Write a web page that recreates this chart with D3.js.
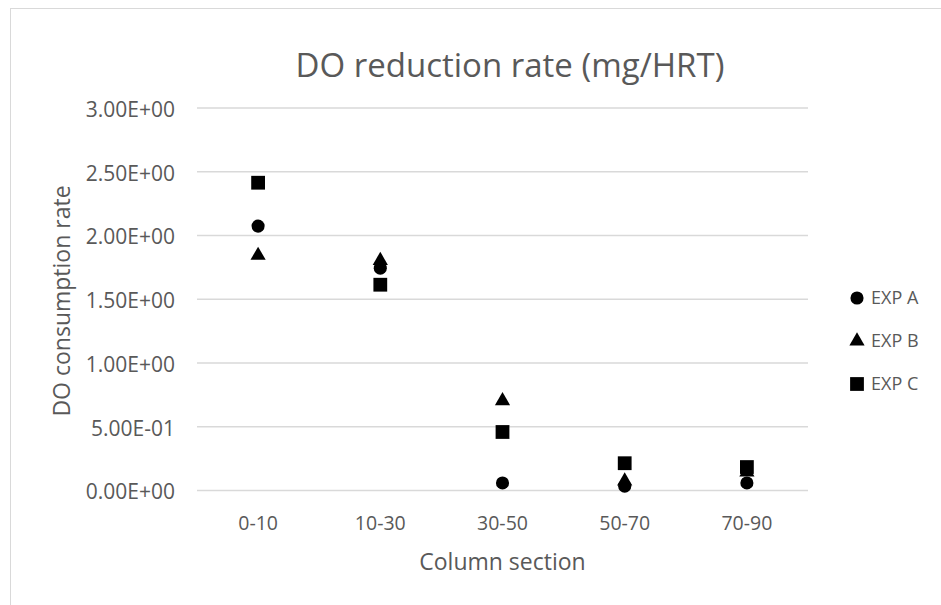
<!DOCTYPE html>
<html>
<head>
<meta charset="utf-8">
<script src="https://cdn.jsdelivr.net/npm/d3@7"></script>
<style>
  body { margin: 0; background: #fff; }
  text { font-family: 'Open Sans', sans-serif; fill: #595959; }
</style>
</head>
<body>
<div class="chart"></div>
<script>
const categories = ['0-10', '10-30', '30-50', '50-70', '70-90']
const expA = [2.07, 1.74, 0.055, 0.03, 0.055]
const expB = [1.84, 1.80, 0.70, 0.07, 0.14]
const expC = [2.41, 1.61, 0.455, 0.21, 0.18]
const yTicks = [0, 0.5, 1, 1.5, 2, 2.5, 3]
const seriesNames = ['EXP A', 'EXP B', 'EXP C']

const width = 941
const height = 605
const plot = { left: 197, right: 808, top: 107.5, bottom: 490 }

const series = [
  { name: seriesNames[0], values: expA, shape: d3.symbolCircle, size: 135 },
  { name: seriesNames[1], values: expB, shape: d3.symbolTriangle, size: 100 },
  { name: seriesNames[2], values: expC, shape: d3.symbolSquare, size: 190 }
]

let svg = d3.select('.chart')
  .append('svg')
  .attr('width', width)
  .attr('height', height)

// chart area border (right and bottom run off the picture)
svg.append('rect')
  .attr('x', 10.5)
  .attr('y', 8.5)
  .attr('width', 1000)
  .attr('height', 1000)
  .attr('fill', 'none')
  .attr('stroke', '#d9d9d9')

let xScale = d3.scaleBand()
  .domain(categories)
  .range([plot.left, plot.right])

let yScale = d3.scaleLinear()
  .domain([0, 3])
  .range([plot.bottom, plot.top])

// 0.00E+00 style labels
let sciFormat = d => d3.format('.2e')(d).replace(/e([+-])(\d)$/, 'E$10$2').toUpperCase()

const yAxis = d3.axisLeft(yScale)
  .tickValues(yTicks)
  .tickSize(-(plot.right - plot.left))
  .tickPadding(22)
  .tickFormat(sciFormat)

let gy = svg.append('g')
  .attr('transform', 'translate(' + plot.left + ',0)')
  .call(yAxis)
gy.select('.domain').remove()
gy.selectAll('line').attr('stroke', '#d9d9d9').attr('stroke-width', 1.3)
gy.selectAll('text')
  .attr('fill', '#595959')
  .attr('dy', '0.42em')
  .style('font-size', '21px')
  .style('font-family', "'Open Sans', sans-serif")

const xAxis = d3.axisBottom(xScale).tickSize(0)
let gx = svg.append('g')
  .attr('transform', 'translate(0,' + plot.bottom + ')')
  .call(xAxis)
gx.select('.domain').remove()
gx.selectAll('text')
  .attr('fill', '#595959')
  .attr('y', 40)
  .attr('dy', 0)
  .style('font-size', '19.5px')
  .style('font-family', "'Open Sans', sans-serif")

series.forEach(s => {
  svg.append('g')
    .selectAll('path')
    .data(s.values)
    .enter()
    .append('path')
    .attr('d', d3.symbol().type(s.shape).size(s.size))
    .attr('transform', (d, i) => 'translate(' + (xScale(categories[i]) + xScale.bandwidth() / 2) + ',' + yScale(d) + ')')
    .attr('fill', '#000')
})

// legend
let legend = svg.selectAll('.legend')
  .data(series)
  .enter()
  .append('g')
  .attr('class', 'legend')
  .attr('transform', (d, i) => 'translate(857,' + (298 + i * 43) + ')')

legend.append('path')
  .attr('d', d => d3.symbol().type(d.shape).size(d.size)())
  .attr('fill', '#000')

legend.append('text')
  .attr('x', 14)
  .attr('dy', '0.36em')
  .style('font-size', '18px')
  .text(d => d.name)

svg.append('text')
  .attr('x', 510)
  .attr('y', 77)
  .attr('text-anchor', 'middle')
  .style('font-size', '33px')
  .text('DO reduction rate (mg/HRT)')

svg.append('text')
  .attr('x', (plot.left + plot.right) / 2)
  .attr('y', 570)
  .attr('text-anchor', 'middle')
  .style('font-size', '23px')
  .text('Column section')

svg.append('text')
  .attr('transform', 'translate(70,301) rotate(-90)')
  .attr('text-anchor', 'middle')
  .style('font-size', '23px')
  .text('DO consumption rate')
</script>
</body>
</html>
